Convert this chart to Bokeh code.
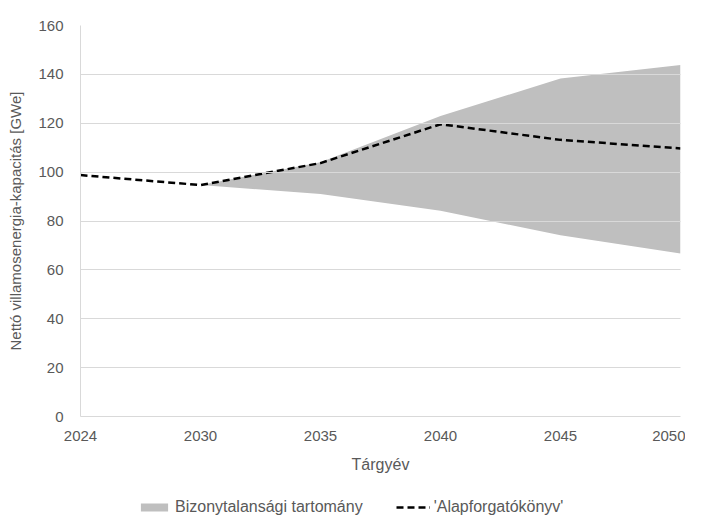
from bokeh.plotting import figure
from bokeh.layouts import column
from bokeh.models import Range1d, Legend, LegendItem, FixedTicker
from bokeh.embed import file_html
from bokeh.resources import INLINE

# ---- data ----
years = ["2024", "2030", "2035", "2040", "2045", "2050"]
base = [98.8, 94.7, 103.7, 119.6, 113.2, 109.7]
band_years = ["2030", "2035", "2040", "2045", "2050"]
band_upper = [94.7, 104.0, 123.0, 138.3, 143.8]
band_lower = [94.7, 91.0, 84.2, 74.2, 66.7]
y_ticks = [0, 20, 40, 60, 80, 100, 120, 140, 160]
band_label = "Bizonytalansági tartomány"
line_label = "'Alapforgatókönyv'"

idx = {y: i for i, y in enumerate(years)}
xb = [idx[y] for y in band_years]
xl = [idx[y] for y in years]

TXT = "#595959"
FONT = "Liberation Sans"
BAND_COLOR = "#BFBFBF"

p = figure(width=685, height=480, x_range=Range1d(0, len(years) - 1),
           y_range=Range1d(0, 160), output_backend="svg", toolbar_location=None,
           min_border_left=80, min_border_right=5, min_border_top=25,
           min_border_bottom=64)
p.outline_line_color = None

p.varea(x=xb, y1=band_lower, y2=band_upper, fill_color=BAND_COLOR)
p.line(x=xl, y=base, line_color="black", line_width=2.5, line_dash="7 4")

# axes
p.xaxis.ticker = FixedTicker(ticks=list(range(len(years))))
p.xaxis.major_label_overrides = {i: y for i, y in enumerate(years)}
p.yaxis.ticker = FixedTicker(ticks=y_ticks)
for ax in (p.xaxis[0], p.yaxis[0]):
    ax.major_tick_line_color = None
    ax.minor_tick_line_color = None
    ax.axis_line_color = "#D9D9D9"
    ax.major_label_text_color = TXT
    ax.major_label_text_font = FONT
    ax.major_label_text_font_size = "15px"
    ax.axis_label_text_color = TXT
    ax.axis_label_text_font = FONT
    ax.axis_label_text_font_style = "normal"
    ax.axis_label_text_font_size = "15px"
p.xaxis.axis_label = "Tárgyév"
p.xaxis.axis_label_text_font_size = "16px"
p.xaxis.major_label_standoff = 8
p.xaxis.axis_label_standoff = 12
p.yaxis.axis_label = "Nettó villamosenergia-kapacitás [GWe]"
p.yaxis.major_label_standoff = 11
p.yaxis.axis_label_standoff = 11

p.xgrid.grid_line_color = None
p.ygrid.grid_line_color = "#D9D9D9"
p.ygrid.level = "overlay"

# ---- legend strip ----
lg = figure(width=685, height=36, x_range=Range1d(0, 1), y_range=Range1d(0, 1),
            output_backend="svg", toolbar_location=None,
            x_axis_location=None, y_axis_location=None,
            min_border_left=0, min_border_right=0, min_border_top=0, min_border_bottom=0)
lg.grid.visible = False
lg.outline_line_color = None
r_band = lg.varea(x=xb[:1], y1=band_lower[:1], y2=band_upper[:1], fill_color=BAND_COLOR)
r_line = lg.line(x=xl[:1], y=base[:1], line_color="black", line_width=2.5, line_dash="7 4")

legend = Legend(items=[LegendItem(label=band_label, renderers=[r_band]),
                       LegendItem(label=line_label, renderers=[r_line])],
                orientation="horizontal", location=(57, 0))
legend.label_text_font = FONT
legend.label_text_font_size = "16px"
legend.label_text_color = TXT
legend.border_line_color = None
legend.background_fill_alpha = 0
legend.glyph_width = 34
legend.glyph_height = 10
legend.spacing = 33
legend.padding = 1
legend.margin = 0
legend.label_standoff = 4
lg.add_layout(legend, "center")

layout = column(p, lg, spacing=0)
open("out.html", "w").write(file_html(layout, INLINE))
